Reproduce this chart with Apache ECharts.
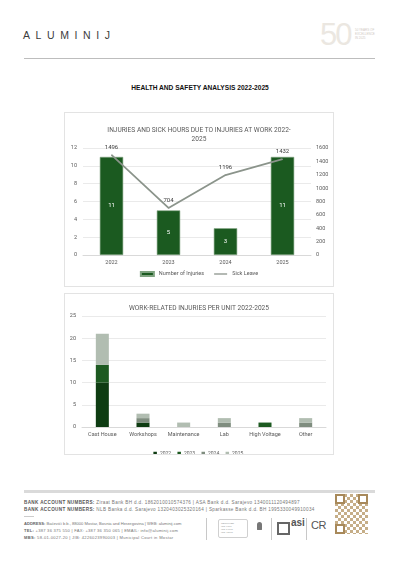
<!DOCTYPE html>
<html>
<head>
<meta charset="utf-8">
<script src="https://cdn.jsdelivr.net/npm/echarts@6/dist/echarts.min.js"></script>
<style>
	html, body { margin: 0; padding: 0; background: #fff; }
	body { width: 400px; height: 566px; position: relative; overflow: hidden; font-family: "Liberation Sans", Arial, sans-serif; }
	.abs { position: absolute; }
	.logo { left: 23px; top: 29px; font-size: 10.5px; letter-spacing: 5.6px; color: #3c3c3c; }
	.fifty { left: 320px; top: 17px; font-size: 31px; color: #ebe7e1; letter-spacing: -2px; }
	.fifty-txt { left: 355px; top: 28px; font-size: 3px; line-height: 4px; color: #cfc9bf; }
	.hr { left: 24px; top: 58px; width: 351px; height: 1px; background: #bdbdbd; }
	.page-title { left: 0; top: 84px; width: 400px; text-align: center; font-size: 6.6px; font-weight: bold; color: #111; }
	.box { border: 1px solid #e3e3e3; box-sizing: border-box; }
	.foot-hr { left: 24px; top: 490px; width: 351px; height: 3px; background: #dadada; }
	.bank { left: 24px; font-size: 4.6px; letter-spacing: 0.35px; color: #777; white-space: nowrap; }
	.bank b { color: #555; }
	.addr { left: 24px; font-size: 4.1px; color: #777; white-space: nowrap; }
	.addr b { color: #666; }
	.vsep { width: 1px; background: #c8c8c8; }
	.qr { left: 335px; top: 494px; width: 33px; height: 40px;
		background: conic-gradient(#b89a6a 25%, #fff 0 50%, #b89a6a 0 75%, #fff 0) 0 0 / 6px 6px;
		opacity: 0.8; }
	.finder { width: 6px; height: 6px; border: 2px solid #a8895a; background: #fff; box-sizing: content-box; }
</style>
</head>
<body>

<div class="abs logo">ALUMINIJ</div>
<div class="abs fifty">50</div>
<div class="abs fifty-txt">50 YEARS OF<br>EXCELLENCE<br>IN 2025</div>
<div class="abs hr"></div>
<div class="abs page-title">HEALTH AND SAFETY ANALYSIS 2022-2025</div>

<div id="chart1" class="abs box" style="left:64px; top:112px; width:270px; height:175px;"></div>
<div id="chart2" class="abs box" style="left:64px; top:293px; width:270px; height:162px;"></div>

<div class="abs foot-hr"></div>
<div class="abs bank" style="top:500px;"><b>BANK ACCOUNT NUMBERS:</b> Ziraat Bank BH d.d. 1862010010574376 | ASA Bank d.d. Sarajevo 1340011120494897</div>
<div class="abs bank" style="top:507px;"><b>BANK ACCOUNT NUMBERS:</b> NLB Banka d.d. Sarajevo 1320403025320164 | Sparkasse Bank d.d. BH 1995330049910034</div>
<div class="abs" style="left:24px; top:516px; width:10px; height:1px; background:#ccc;"></div>
<div class="abs addr" style="top:521px;"><b>ADDRESS:</b> Baćevići b.b., 88000 Mostar, Bosnia and Herzegovina | WEB: aluminij.com</div>
<div class="abs addr" style="top:528px; letter-spacing:0.25px;"><b>TEL:</b> +387 36 375 550 | FAX: +387 36 350 065 | EMAIL: info@aluminij.com</div>
<div class="abs addr" style="top:535px; letter-spacing:0.3px;"><b>MBS:</b> 58-01-0027-20 | JIB: 4226023990003 | Municipal Court in Mostar</div>
<div class="abs vsep" style="left:206px; top:518px; height:22px;"></div>
<div class="abs" style="left:218px; top:519px; width:30px; height:19px; border:1px solid #d0d0d0; border-radius:2px; font-size:2.5px; color:#999; padding:2px; box-sizing:border-box;">CERTIFIED<br>ISO 9001<br>ISO 14001<br>ISO 45001</div>
<div class="abs" style="left:257px; top:522px; width:5px; height:8px; background:#777; border-radius:3px 3px 1px 1px;"></div>
<div class="abs vsep" style="left:271px; top:518px; height:22px;"></div>
<div class="abs" style="left:277px; top:522px; width:13px; height:13px; border:2px solid #666; box-sizing:border-box;"></div>
<div class="abs" style="left:291px; top:517px; font-size:10px; font-weight:bold; color:#555;">asi</div>
<div class="abs vsep" style="left:306px; top:518px; height:22px;"></div>
<div class="abs" style="left:311px; top:519px; font-size:11px; color:#555; letter-spacing:-0.5px;">CR</div>
<div class="abs qr"></div>
<div class="abs finder" style="left:335px; top:494px;"></div>
<div class="abs finder" style="left:358px; top:494px;"></div>
<div class="abs finder" style="left:335px; top:524px;"></div>

<script>
	// chart 1: injuries per year + sick leave hours
	var years = ['2022', '2023', '2024', '2025'];
	var injuries = [11, 5, 3, 11];
	var sickLeave = [1496, 704, 1196, 1432];

	// chart 2: injuries per unit, stacked by year
	var units = ['Cast House', 'Workshops', 'Maintenance', 'Lab', 'High Voltage', 'Other'];
	var unit2022 = [10, 1, 0, 0, 0, 0];
	var unit2023 = [4, 0, 0, 0, 1, 0];
	var unit2024 = [0, 1, 0, 1, 0, 1];
	var unit2025 = [7, 1, 1, 1, 0, 1];

	var txt = '#595959';
	var grid = '#e4e4e4';
	var font = 'Roboto, "Liberation Sans", sans-serif';

	var chart1 = echarts.init(document.getElementById('chart1'));
	chart1.setOption({
		animation: false,
		textStyle: { fontFamily: font },
		title: {
			text: 'INJURIES AND SICK HOURS DUE TO INJURIES AT WORK 2022-\n2025',
			left: 'center',
			top: 8,
			textStyle: { fontSize: 6.6, fontWeight: 'normal', color: txt, lineHeight: 9, fontFamily: font, align: 'center' }
		},
		legend: {
			bottom: 4,
			left: 'center',
			itemGap: 10,
			itemWidth: 13,
			itemHeight: 4,
			textStyle: { fontSize: 5.5, color: txt, fontFamily: font },
			data: [
				{ name: 'Number of Injuries', icon: 'rect' },
				{ name: 'Sick Leave', icon: 'path://M0,0L20,0L20,2L0,2Z' }
			]
		},
		grid: { left: 18, right: 22, top: 35, bottom: 31, containLabel: false },
		xAxis: {
			type: 'category',
			data: years,
			axisLine: { lineStyle: { color: '#d9d9d9' } },
			axisTick: { show: false },
			axisLabel: { color: txt, fontSize: 5.5, margin: 5 }
		},
		yAxis: [{
			type: 'value',
			min: 0, max: 12, interval: 2,
			axisLine: { show: false },
			axisTick: { show: false },
			splitLine: { lineStyle: { color: grid, width: 0.8 } },
			axisLabel: { color: txt, fontSize: 5.5, margin: 6 }
		}, {
			type: 'value',
			min: 0, max: 1600, interval: 200,
			axisLine: { show: false },
			axisTick: { show: false },
			splitLine: { show: false },
			axisLabel: { color: txt, fontSize: 5.5, margin: 5, formatter: function(v) { return String(v); } }
		}],
		series: [{
			name: 'Number of Injuries',
			type: 'bar',
			data: injuries,
			barWidth: '41%',
			itemStyle: { color: '#1b5a20', borderColor: '#7fa380', borderWidth: 0.6 },
			label: { show: true, position: 'inside', color: '#fff', fontSize: 6 }
		}, {
			name: 'Sick Leave',
			type: 'line',
			yAxisIndex: 1,
			data: sickLeave,
			symbol: 'circle',
			symbolSize: 1,
			lineStyle: { color: '#8b948b', width: 1.8 },
			itemStyle: { color: '#8b948b' },
			label: { show: true, position: 'top', distance: 4, color: '#404040', fontSize: 6, formatter: function(p) { return String(p.value); } }
		}]
	});

	var chart2 = echarts.init(document.getElementById('chart2'));
	var yearColors = ['#0e3c12', '#1d5a21', '#7f8d7f', '#b1bdb1'];
	var unitSeries = [unit2022, unit2023, unit2024, unit2025];
	var series2 = [];
	unitSeries.forEach(function(arr, i) {
		series2.push({
			name: years[i] + '.',
			type: 'bar',
			stack: 'total',
			data: arr,
			barWidth: '32%',
			itemStyle: { color: yearColors[i] }
		});
	});

	chart2.setOption({
		animation: false,
		textStyle: { fontFamily: font },
		color: yearColors,
		title: {
			text: 'WORK-RELATED INJURIES PER UNIT 2022-2025',
			left: 'center',
			top: 6,
			textStyle: { fontSize: 6.6, fontWeight: 'normal', color: txt, fontFamily: font }
		},
		legend: {
			top: 152,
			left: 'center',
			itemGap: 5,
			itemWidth: 3.5,
			itemHeight: 3.5,
			icon: 'rect',
			textStyle: { fontSize: 5, color: txt, fontFamily: font, padding: [0, 0, 0, -2] }
		},
		grid: { left: 17, right: 7, top: 22, bottom: 27, containLabel: false },
		xAxis: {
			type: 'category',
			data: units,
			axisLine: { lineStyle: { color: '#d9d9d9' } },
			axisTick: { show: false },
			axisLabel: { color: txt, fontSize: 5.5, margin: 5, interval: 0 }
		},
		yAxis: {
			type: 'value',
			min: 0, max: 25, interval: 5,
			axisLine: { show: false },
			axisTick: { show: false },
			splitLine: { lineStyle: { color: grid, width: 0.8 } },
			axisLabel: { color: txt, fontSize: 5.5, margin: 6 }
		},
		series: series2
	});
</script>
</body>
</html>
